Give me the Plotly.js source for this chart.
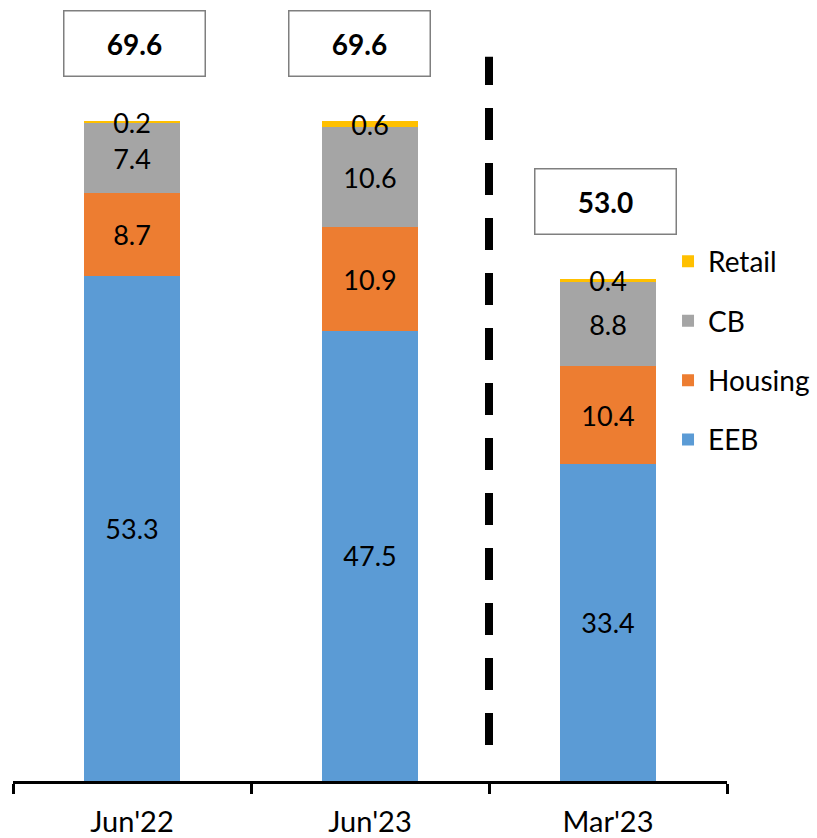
<!DOCTYPE html>
<html>
<head>
<meta charset="utf-8">
<script src="https://cdn.plot.ly/plotly-3.0.1.min.js"></script>
<style>html,body{margin:0;padding:0;background:#fff;}#chart{width:817px;height:838px;}</style>
</head>
<body>
<div id="chart"></div>
<script>
const categories = ["Jun'22", "Jun'23", "Mar'23"];
const seriesNames = ["EEB", "Housing", "CB", "Retail"];
const eeb = [53.3, 47.5, 33.4];
const housing = [8.7, 10.9, 10.4];
const cb = [7.4, 10.6, 8.8];
const retail = [0.2, 0.6, 0.4];
const totals = [69.6, 69.6, 53.0];
const colors = ["#5B9BD5", "#ED7D31", "#A5A5A5", "#FFC000"];

const FONT = "Lato, 'Liberation Sans', sans-serif";
const values = [eeb, housing, cb, retail];

const traces = values.map((v, i) => ({
  type: 'bar',
  name: seriesNames[i],
  legendgroup: seriesNames[i],
  legendrank: 1000 - i * 100,
  x: categories,
  y: v,
  width: 0.4,
  marker: {color: colors[i], line: {width: 0}},
  text: v.map(d => d.toFixed(1)),
  textposition: 'inside',
  insidetextanchor: 'middle',
  textangle: 0,
  constraintext: 'none',
  insidetextfont: {family: FONT, size: 27, color: '#000'},
  hoverinfo: 'none'
}));

const xshifts = [2, -11, -3];
const annotations = categories.map((c, i) => ({
  x: c, y: totals[i], xref: 'x', yref: 'y',
  text: '<b>' + totals[i].toFixed(1) + '</b>',
  showarrow: false,
  yanchor: 'bottom',
  yshift: 44,
  xshift: xshifts[i],
  width: 138, height: 62,
  bordercolor: '#7f7f7f', borderwidth: 1.5, bgcolor: '#fff',
  font: {family: FONT, size: 28, color: '#000'}
}));

const layout = {
  width: 817, height: 838,
  margin: {l: 13, r: 90, t: 0, b: 57},
  paper_bgcolor: '#fff', plot_bgcolor: '#fff',
  barmode: 'stack',
  showlegend: true,
  legend: {
    x: 0.9174, xanchor: 'left', y: 0.697, yanchor: 'top',
    traceorder: 'grouped', tracegroupgap: 20,
    font: {family: FONT, size: 28, color: '#000'},
    bgcolor: 'rgba(0,0,0,0)'
  },
  xaxis: {
    type: 'category', range: [-0.5, 2.5],
    showline: true, linecolor: '#000', linewidth: 3,
    ticks: 'outside', tickson: 'boundaries', ticklen: 10, tickwidth: 3, tickcolor: '#000',
    ticklabelstandoff: 13,
    tickfont: {family: FONT, size: 29, color: '#000'},
    showgrid: false, zeroline: false, fixedrange: true
  },
  yaxis: {
    range: [0, 82.4], visible: false, showgrid: false, zeroline: false, fixedrange: true
  },
  shapes: [{
    type: 'line', xref: 'x', yref: 'y',
    x0: 1.5, x1: 1.5, y0: 3.8, y1: 76.4,
    line: {color: '#000', width: 8, dash: '32px,23px'}
  }],
  annotations: annotations
};

Plotly.newPlot('chart', traces, layout, {displayModeBar: false, staticPlot: true});
</script>
</body>
</html>
